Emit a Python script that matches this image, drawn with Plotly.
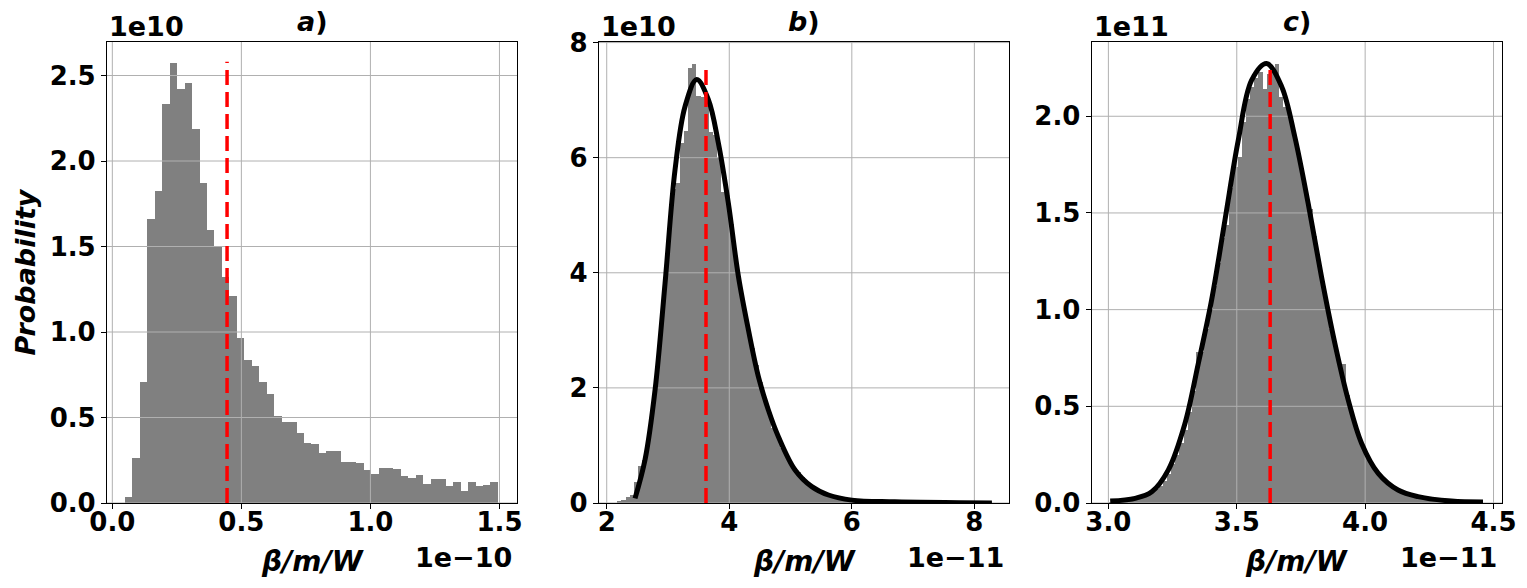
import plotly.graph_objects as go
from plotly.subplots import make_subplots

# ── 1. Data (x in units of the offset shown under each axis, y likewise) ──
# panel a : 50 bins, x ×1e-10, y ×1e10
a_bin_start = 0.049
a_bin_width = 0.0289
a_heights = [0.035, 0.265, 0.71, 1.66, 1.825, 2.336, 2.576, 2.424, 2.459, 2.19,
             1.872, 1.597, 1.503, 1.324, 1.211, 0.965, 0.837, 0.801, 0.71, 0.638,
             0.509, 0.474, 0.474, 0.411, 0.351, 0.345, 0.294, 0.304, 0.304, 0.24,
             0.24, 0.234, 0.195, 0.172, 0.205, 0.205, 0.199, 0.16, 0.146, 0.166,
             0.113, 0.14, 0.14, 0.101, 0.123, 0.07, 0.123, 0.099, 0.107, 0.123]
a_mean = 0.4446
a_mean_top = 2.58

# panel b : 90 bins, x ×1e-11, y ×1e10
b_bin_start = 2.173
b_bin_width = 0.068
b_heights = [0.02, 0.06, 0.1, 0.14, 0.37, 0.64, 0.75, 1.1, 1.6, 2.25,
             3.1, 3.75, 4.6, 5.45, 5.56, 6.26, 6.46, 7.55, 7.62, 7.07,
             7.05, 6.95, 6.45, 6.4, 6.0, 5.41, 5.35, 4.85, 4.2, 3.75,
             3.36, 3.0, 2.7, 2.4, 2.1, 1.78, 1.55, 1.3, 1.2, 0.95,
             0.85, 0.7, 0.6, 0.54, 0.46, 0.36, 0.3, 0.24, 0.2, 0.17,
             0.14, 0.12, 0.1, 0.085, 0.07, 0.06, 0.05,
             0.045, 0.04, 0.035, 0.03, 0.027, 0.024, 0.021, 0.019, 0.017, 0.015,
             0.013, 0.012, 0.011, 0.01, 0.009, 0.008, 0.007, 0.006, 0.006, 0.005,
             0.005, 0.004, 0.004, 0.003, 0.003, 0.003, 0.002, 0.002, 0.002, 0.002,
             0.001, 0.001, 0.001]
b_fit_x = [2.462, 2.625, 2.789, 2.952, 3.115, 3.278, 3.469, 3.659, 3.822, 3.985,
           4.149, 4.312, 4.475, 4.638, 4.802, 5.074, 5.347, 5.618, 6.0, 6.7, 8.286]
b_fit_y = [0.08, 0.75, 1.965, 3.82, 5.79, 6.89, 7.357, 7.01, 6.255, 5.21,
           3.94, 3.01, 2.197, 1.617, 1.153, 0.574, 0.284, 0.139, 0.05, 0.02, 0.0]
b_mean = 3.62
b_mean_top = 7.56

# panel c : 90 bins, x ×1e-11, y ×1e11
c_bin_start = 3.0
c_bin_width = 0.0162
c_heights = [0.005, 0.006, 0.007, 0.009, 0.011, 0.014, 0.019, 0.024, 0.03, 0.04,
             0.055, 0.07, 0.09, 0.115, 0.15, 0.2, 0.25, 0.31, 0.38, 0.47,
             0.58, 0.78, 0.78, 0.9, 1.0, 1.12, 1.24, 1.37, 1.44, 1.63,
             1.74, 1.79, 1.97, 2.09, 2.15, 2.2, 2.23, 2.14, 2.22, 2.24,
             2.27, 2.1, 2.05, 2.0, 1.9, 1.82, 1.7, 1.6, 1.52, 1.38,
             1.24, 1.15, 1.03, 0.9, 0.84, 0.72, 0.72, 0.56, 0.47, 0.4,
             0.33, 0.28, 0.23, 0.19, 0.16, 0.135, 0.115, 0.095, 0.08, 0.068,
             0.058, 0.05, 0.043, 0.037, 0.032, 0.028, 0.024, 0.021, 0.018, 0.016,
             0.014, 0.012, 0.01, 0.009, 0.008, 0.007, 0.006, 0.005, 0.004, 0.004]
c_fit_x = [3.007, 3.104, 3.169, 3.233, 3.298, 3.35, 3.402, 3.454, 3.506, 3.558,
           3.616, 3.675, 3.726, 3.778, 3.83, 3.882, 3.934, 3.986, 4.051, 4.128,
           4.206, 4.336, 4.459]
c_fit_y = [0.01, 0.024, 0.058, 0.17, 0.41, 0.72, 1.05, 1.463, 1.877, 2.187,
           2.273, 2.153, 1.894, 1.55, 1.17, 0.826, 0.533, 0.309, 0.153, 0.067,
           0.033, 0.01, 0.005]
c_mean = 3.63
c_mean_top = 2.248

# axes: ticks and ranges
a_xticks = [0.0, 0.5, 1.0, 1.5]
a_yticks = [0.0, 0.5, 1.0, 1.5, 2.0, 2.5]
b_xticks = [2, 4, 6, 8]
b_yticks = [0, 2, 4, 6, 8]
c_xticks = [3.0, 3.5, 4.0, 4.5]
c_yticks = [0.0, 0.5, 1.0, 1.5, 2.0]
a_xrange, a_yrange = [-0.0206, 1.568], [0, 2.696]
b_xrange, b_yrange = [1.874, 8.57], [0, 8.01]
c_xrange, c_yrange = [2.935, 4.533], [0, 2.384]

titles = ['a', 'b', 'c']
x_offsets = ['1e\u221210', '1e\u221211', '1e\u221211']
y_offsets = ['1e10', '1e10', '1e11']

W, H = 1527, 588
L, R, T, B = 107, 25, 42, 85
FONT = 'DejaVu Sans'
GRAY = '#808080'
GRID = '#b0b0b0'

# ── 2. Figure ─────────────────────────────────────
fig = make_subplots(rows=1, cols=3)

panels = [
    (a_bin_start, a_bin_width, a_heights, None, None, a_mean, a_mean_top,
     a_xticks, a_yticks, a_xrange, a_yrange, '.1f', '.1f'),
    (b_bin_start, b_bin_width, b_heights, b_fit_x, b_fit_y, b_mean, b_mean_top,
     b_xticks, b_yticks, b_xrange, b_yrange, 'd', 'd'),
    (c_bin_start, c_bin_width, c_heights, c_fit_x, c_fit_y, c_mean, c_mean_top,
     c_xticks, c_yticks, c_xrange, c_yrange, '.1f', '.1f'),
]

for col, (start, width, heights, fx, fy, mean, mtop,
          xt, yt, xr, yr, xfmt, yfmt) in enumerate(panels, start=1):
    centers = [start + width * (i + 0.5) for i in range(len(heights))]
    fig.add_trace(go.Bar(x=centers, y=heights, width=width,
                         marker=dict(color=GRAY, line=dict(width=0))),
                  row=1, col=col)
    # grid above the bars but below the lines (matplotlib default)
    gx, gy = [], []
    for t in xt:
        gx += [t, t, None]
        gy += [yr[0], yr[1], None]
    for t in yt:
        gx += [xr[0], xr[1], None]
        gy += [t, t, None]
    fig.add_trace(go.Scatter(x=gx, y=gy, mode='lines',
                             line=dict(color=GRID, width=1)),
                  row=1, col=col)
    if fx is not None:
        fig.add_trace(go.Scatter(x=fx, y=fy, mode='lines',
                                 line=dict(color='black', width=5, shape='spline')),
                      row=1, col=col)
    fig.add_trace(go.Scatter(x=[mean, mean], y=[0, mtop], mode='lines',
                             line=dict(color='red', width=3.5, dash='15px,7px')),
                  row=1, col=col)

    tickfont = dict(family=FONT, size=26, color='black', weight='bold')
    axis_common = dict(showline=True, mirror=True, linecolor='black', linewidth=1.2,
                       ticks='outside', ticklen=5, tickwidth=1.2, tickcolor='black',
                       showgrid=False, zeroline=False, tickfont=tickfont)
    fig.update_xaxes(range=xr, tickvals=xt, tickformat=xfmt, ticklabelstandoff=-9,
                     **axis_common, row=1, col=col)
    fig.update_yaxes(range=yr, tickvals=yt, tickformat=yfmt, ticklabelstandoff=0,
                     **axis_common, row=1, col=col)

plot_w = W - L - R
doms = [(107, 517), (599, 1009.3), (1091.7, 1502)]
for i, (x0, x1) in enumerate(doms, start=1):
    key = 'xaxis' if i == 1 else f'xaxis{i}'
    fig.layout[key].domain = [(x0 - L) / plot_w, (x1 - L) / plot_w]

# ── 3. Text ───────────────────────────────────────
ann = []
for i in range(3):
    sfx = '' if i == 0 else str(i + 1)
    xd = f'x{sfx} domain'
    yd = f'y{sfx} domain'
    ann.append(dict(text=f'<i>{titles[i]}</i>)', xref=xd, yref=yd, x=0.5, y=1,
                    xanchor='center', yanchor='bottom', yshift=3, showarrow=False,
                    font=dict(family=FONT, size=27, color='black', weight='bold')))
    ann.append(dict(text=y_offsets[i], xref=xd, yref=yd, x=0, y=1,
                    xanchor='left', yanchor='bottom', yshift=-2, showarrow=False,
                    font=dict(family=FONT, size=27, color='black', weight='bold')))
    ann.append(dict(text=x_offsets[i], xref=xd, yref=yd, x=1, y=0,
                    xanchor='right', yanchor='top', xshift=-3, yshift=-37,
                    showarrow=False,
                    font=dict(family=FONT, size=27, color='black', weight='bold')))
    ann.append(dict(text='\u03b2/m/W', xref=xd, yref=yd, x=0.5, y=0,
                    xanchor='center', yanchor='top', yshift=-40, showarrow=False,
                    font=dict(family=FONT, size=28, color='black', weight='bold',
                              style='italic')))

ann.append(dict(text='Probability', xref='x domain', yref='y domain', x=0, y=0.5,
                xanchor='center', yanchor='middle', xshift=-82, textangle=-90,
                showarrow=False,
                font=dict(family=FONT, size=27, color='black', weight='bold',
                          style='italic')))

fig.update_layout(width=W, height=H, margin=dict(l=L, r=R, t=T, b=B, autoexpand=False),
                  paper_bgcolor='white', plot_bgcolor='white', showlegend=False,
                  bargap=0, annotations=ann)

# the page body has an 8px default margin; drop it so the figure fills the window
fig.write_html('out.html', config={'displayModeBar': False},
               post_script="document.body.style.margin='0';")
